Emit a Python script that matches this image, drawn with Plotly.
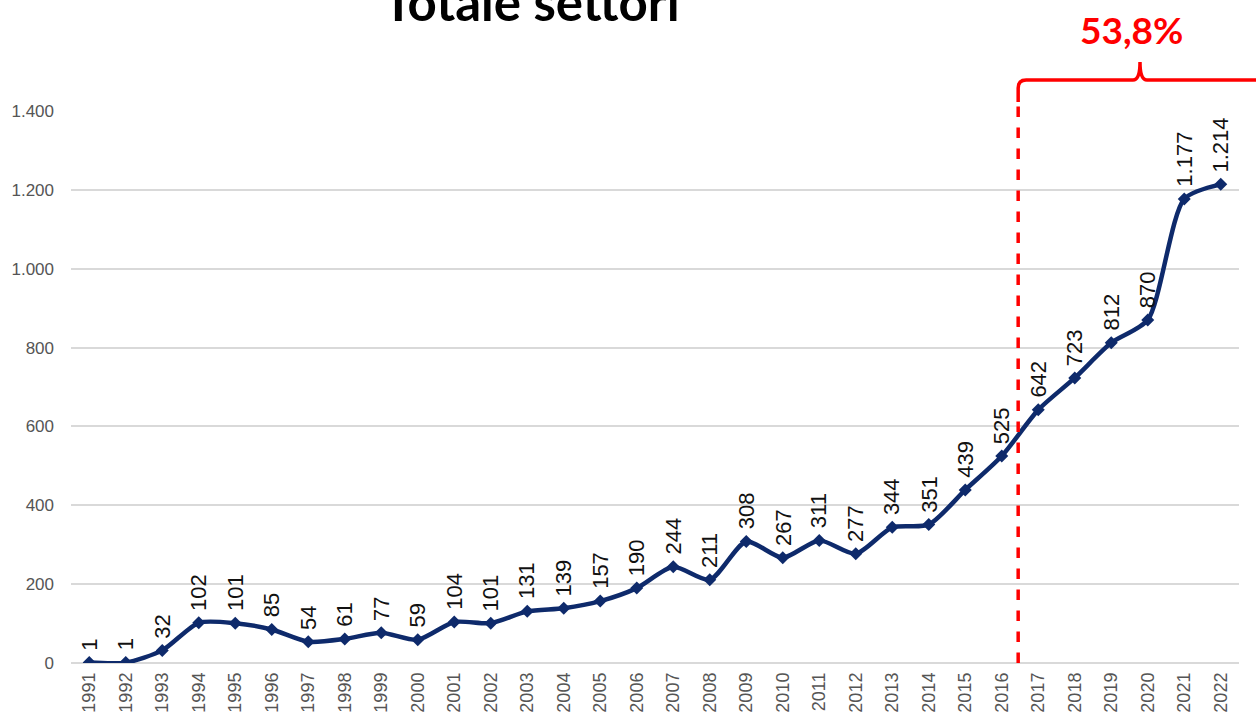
import plotly.graph_objects as go

years = [str(y) for y in range(1991, 2023)]
values = [1, 1, 32, 102, 101, 85, 54, 61, 77, 59, 104, 101, 131, 139, 157, 190,
          244, 211, 308, 267, 311, 277, 344, 351, 439, 525, 642, 723, 812, 870, 1177, 1214]
y_ticks = [0, 200, 400, 600, 800, 1000, 1200, 1400]
title_text = "Totale settori"
share_text = "53,8%"

W, H = 1256, 715
ML, MR, MT, MB = 71, W - 1239, 111, 52
PW, PH = W - ML - MR, H - MT - MB


def px(x):
    return (x - ML) / PW


def py(y):
    return (H - MB - y) / PH


def fmt(v):
    return f"{v:,}".replace(",", ".")


line_color = "#0E2A6B"
idx = list(range(len(years)))

fig = go.Figure()
fig.add_trace(go.Scatter(
    x=idx, y=values, mode="lines+markers",
    line=dict(color=line_color, width=4.5, shape="spline", smoothing=0.7),
    marker=dict(symbol="diamond", size=10, color=line_color),
    text=years, hovertemplate="%{text}: %{y}<extra></extra>", showlegend=False,
))

annotations = []
for i, v in zip(idx, values):
    annotations.append(dict(
        x=i, y=v, xref="x", yref="y", text=fmt(v), showarrow=False,
        textangle=-90, yanchor="bottom", xanchor="center", yshift=10,
        font=dict(family="Liberation Sans", size=22, color="#111111"),
    ))

annotations.append(dict(
    x=px(531), y=py(1), xref="paper", yref="paper", text=f"<b>{title_text}</b>",
    showarrow=False, xanchor="center", yanchor="middle",
    font=dict(family="Lato", size=51, color="#000000"),
))
annotations.append(dict(
    x=px(1131), y=py(30), xref="paper", yref="paper", text=f"<b>{share_text}</b>",
    showarrow=False, xanchor="center", yanchor="middle",
    font=dict(family="Lato", size=37, color="#FF0000"),
))

# dashed vertical divider between 2016 and 2017
xdiv = (25.45 + 0.5) / 32
shapes = [dict(
    type="line", xref="paper", yref="paper",
    x0=xdiv, x1=xdiv, y0=0, y1=py(102),
    line=dict(color="#FF0000", width=3.5, dash="dash"),
)]

# brace
xl = ML + xdiv * PW
path = (
    f"M {px(xl)},{py(102)} "
    f"L {px(xl)},{py(88)} "
    f"Q {px(xl)},{py(80)} {px(xl + 8)},{py(80)} "
    f"L {px(1133)},{py(80)} "
    f"Q {px(1140)},{py(80)} {px(1140)},{py(62)} "
    f"Q {px(1140)},{py(80)} {px(1147)},{py(80)} "
    f"L {px(1262)},{py(80)}"
)
shapes.append(dict(type="path", xref="paper", yref="paper", path=path,
                   line=dict(color="#FF0000", width=3.5)))

fig.update_layout(
    width=W, height=H,
    margin=dict(l=ML, r=MR, t=MT, b=MB, autoexpand=False),
    paper_bgcolor="white", plot_bgcolor="white",
    separators=",.",
    xaxis=dict(
        range=[-0.5, 31.5], tickangle=-90, automargin=False,
        tickvals=idx, ticktext=years, ticklabelstandoff=5,
        showgrid=False, showline=False, ticks="", zeroline=False,
        tickfont=dict(family="Liberation Sans", size=18, color="#555555"),
        fixedrange=True,
    ),
    yaxis=dict(
        range=[0, 1400], tickvals=y_ticks, ticktext=[fmt(v) for v in y_ticks],
        showgrid=True, gridcolor="#D9D9D9", gridwidth=1.5, automargin=False,
        zeroline=True, zerolinecolor="#D9D9D9", zerolinewidth=1.5,
        showline=False, ticks="", ticklabelstandoff=16,
        tickfont=dict(family="Liberation Sans", size=17, color="#555555"),
        fixedrange=True,
    ),
    annotations=annotations,
    shapes=shapes,
)

fig.write_html(
    "out.html",
    config={"displayModeBar": False},
    post_script="document.body.style.margin='0';document.body.style.padding='0';",
)
